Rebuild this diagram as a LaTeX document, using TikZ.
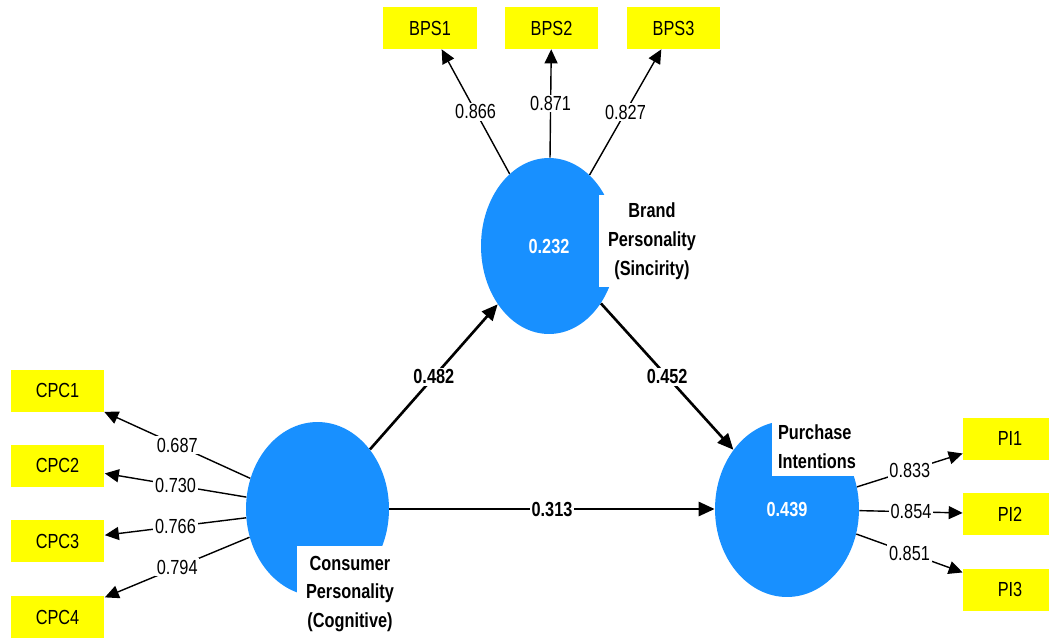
\documentclass[tikz,border=0pt]{standalone}
\usepackage{fontspec}
\setmainfont[FakeStretch=0.8]{Liberation Sans}
\usetikzlibrary{arrows.meta,shapes.geometric}
\definecolor{lvblue}{RGB}{24,144,255}
\definecolor{indyellow}{RGB}{255,255,0}
\newcommand{\lfs}{\fontsize{11.6pt}{16.4pt}\selectfont}
\begin{document}
\begin{tikzpicture}[x=0.02cm,y=-0.02cm,
  ind/.style={rectangle, fill=indyellow, minimum width=1.88cm, minimum height=0.84cm, inner sep=0pt, font=\lfs},
  lv/.style={ellipse, fill=lvblue, inner sep=0pt, text=white, font=\lfs\bfseries},
  lvname/.style={fill=white, inner sep=0pt, font=\lfs\bfseries},
  load/.style={line width=0.8pt, -{Triangle[length=0.28cm,width=0.26cm]}},
  pathc/.style={line width=1.5pt, -{Triangle[length=0.32cm,width=0.28cm]}},
  lbl/.style={fill=white, inner sep=1pt, font=\lfs},
  plbl/.style={fill=white, inner sep=1pt, font=\lfs\bfseries}]
\useasboundingbox (0,0) rectangle (1049,637);
\clip (0,0) rectangle (1049,637);
\fill[white] (0,0) rectangle (1049,637);

% indicators
\node[ind] (bps1) at (430,28) {BPS1};
\node[ind] (bps2) at (551.5,28) {BPS2};
\node[ind] (bps3) at (673.5,28) {BPS3};
\node[ind] (cpc1) at (57.5,390.5) {CPC1};
\node[ind] (cpc2) at (57.5,465.5) {CPC2};
\node[ind] (cpc3) at (57.5,541) {CPC3};
\node[ind] (cpc4) at (57.5,617) {CPC4};
\node[ind] (pi1) at (1010,438.5) {PI1};
\node[ind] (pi2) at (1010,514) {PI2};
\node[ind] (pi3) at (1010,589.5) {PI3};

% latent variables
\node[lv, minimum width=2.72cm, minimum height=3.52cm] (bp) at (549,246) {0.232};
\node[lv, minimum width=2.86cm, minimum height=3.48cm] (cp) at (317.5,509) {};
\node[lv, minimum width=2.88cm, minimum height=3.52cm] (pi) at (787,509) {0.439};

% latent variable names (white label boxes)
\node[lvname, align=center, minimum width=2.12cm, minimum height=1.84cm] (bpname) at (652,241) {Brand\\Personality\\(Sincirity)};
\node[lvname, align=center, minimum width=2.12cm, minimum height=1.92cm] (cpname) at (350,594) {Consumer\\Personality\\(Cognitive)};
\node[lvname, align=left, minimum width=1.8cm, minimum height=1.16cm] (piname) at (817,447) {Purchase\\Intentions};

% outer loadings
\draw[load] (bp) -- node[lbl] {0.866} (bps1);
\draw[load] (bp) -- node[lbl] {0.871} (bps2);
\draw[load] (bp) -- node[lbl] {0.827} (bps3);
\draw[load] (cp) -- node[lbl] {0.687} (cpc1);
\draw[load] (cp) -- node[lbl] {0.730} (cpc2);
\draw[load] (cp) -- node[lbl] {0.766} (cpc3);
\draw[load] (cp) -- node[lbl] {0.794} (cpc4);
\draw[load] (pi) -- node[lbl] {0.833} (pi1);
\draw[load] (pi) -- node[lbl] {0.854} (pi2);
\draw[load] (pi) -- node[lbl] {0.851} (pi3);

% path coefficients
\draw[pathc] (cp) -- node[plbl] {0.482} (bp);
\draw[pathc] (bp) -- node[plbl] {0.452} (pi);
\draw[pathc] (cp) -- node[plbl] {0.313} (pi);
\end{tikzpicture}
\end{document}
